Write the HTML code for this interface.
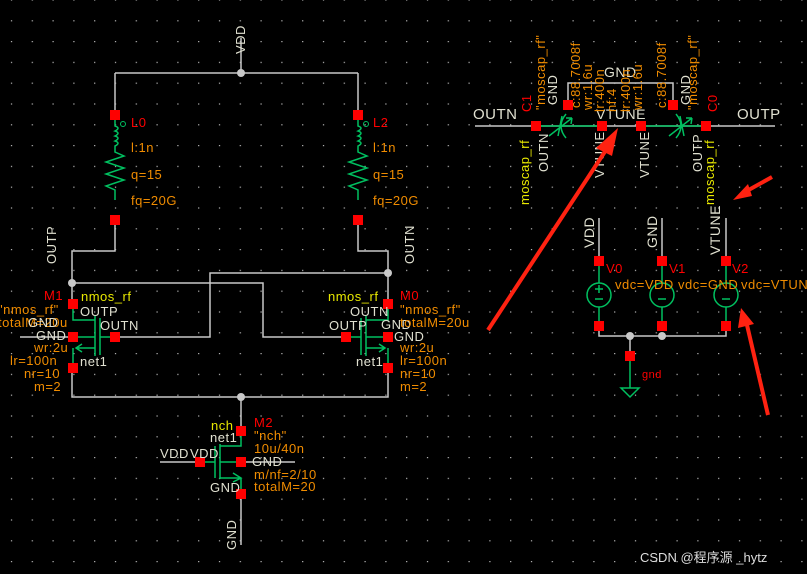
<!DOCTYPE html>
<html><head><meta charset="utf-8"><style>
html,body{margin:0;padding:0;background:#000;width:807px;height:574px;overflow:hidden}
svg{display:block}
text{font-family:"Liberation Sans","Noto Sans CJK SC",sans-serif;font-size:13px;letter-spacing:0.5px}
.w{stroke:#c8c8c8;stroke-width:1.5;fill:none}
.g{stroke:#00c060;stroke-width:1.5;fill:none}
.p{fill:#f00}
.o{fill:#f08c00}
.y{fill:#e8e800}
.r{fill:#f00}
.t{fill:#e0e0d0}
.d{fill:#c8c8c8}
</style></head><body>
<svg width="807" height="574" viewBox="0 0 807 574">
<defs><pattern id="gr" x="10.9" y="20.2" width="20.8" height="20.8" patternUnits="userSpaceOnUse"><rect x="0" y="0" width="1.2" height="1.2" fill="#bbb"/></pattern></defs>
<rect width="807" height="574" fill="#000"/>
<rect width="807" height="574" fill="url(#gr)"/>

<path class="w" d="M241 38V73M115 73H358M115 73V115M358 73V115"/>
<circle class="d" cx="241" cy="73" r="4"/>
<text class="t" transform="translate(245,54) rotate(-90)">VDD</text>
<g id="ind">
<path class="g" d="M115 120v6 q6 2 0 5 q6 2 0 5 q6 2 0 5 q6 2 0 5 v6 l9 4 -18 6 18 6 -18 6 18 6 -18 6 9 4v10"/>
<circle cx="123" cy="124" r="2.5" fill="none" stroke="#00c060"/>
</g>
<use href="#ind" x="243"/>
<rect class="p" x="110" y="110" width="10" height="10"/><rect class="p" x="110" y="215" width="10" height="10"/>
<rect class="p" x="353" y="110" width="10" height="10"/><rect class="p" x="353" y="215" width="10" height="10"/>
<text class="r" x="131" y="127">L0</text><text class="o" x="131" y="152">l:1n</text><text class="o" x="131" y="179">q=15</text><text class="o" x="131" y="205">fq=20G</text>
<text class="r" x="373" y="127">L2</text><text class="o" x="373" y="152">l:1n</text><text class="o" x="373" y="179">q=15</text><text class="o" x="373" y="205">fq=20G</text>

<path class="w" d="M115 225V251H72V304M358 225V251H388V304M72 283H263V337H346M388 273H210V337H115M72 368V397H388V368M241 397V431M20 337H72"/>
<circle class="d" cx="72" cy="283" r="4"/><circle class="d" cx="388" cy="273" r="4"/><circle class="d" cx="241" cy="397" r="4"/>
<text class="t" transform="translate(56,264) rotate(-90)">OUTP</text>
<text class="t" transform="translate(414,264) rotate(-90)">OUTN</text>

<path class="g" d="M73 304V320H95M95 316V356M100 318V355M100 337H115M73 337H95M95 348L76 348M82 344L76 348L82 352M73 348V368"/>
<rect class="p" x="68" y="299" width="10" height="10"/><rect class="p" x="68" y="332" width="10" height="10"/><rect class="p" x="110" y="332" width="10" height="10"/><rect class="p" x="68" y="363" width="10" height="10"/>
<text class="r" x="44" y="300">M1</text>
<text class="y" x="81" y="301">nmos_rf</text>
<text class="t" x="80" y="316">OUTP</text>
<text class="t" x="100" y="330">OUTN</text>
<text class="o" x="-2" y="314">"nmos_rf"</text>
<text class="o" x="-2" y="327">totalM=20u</text>
<text class="t" x="28" y="327">GND</text>
<text class="t" x="36" y="340">GND</text>
<text class="o" x="34" y="352">wr:2u</text>
<text class="o" x="10" y="365">lr=100n</text>
<text class="o" x="24" y="378">nr=10</text>
<text class="o" x="34" y="391">m=2</text>
<text class="t" x="80" y="366">net1</text>

<path class="g" d="M388 304V320H366M366 316V356M361 318V355M346 337H361M366 337H388M366 348L385 348M379 344L385 348L379 352M388 348V368"/>
<rect class="p" x="383" y="299" width="10" height="10"/><rect class="p" x="383" y="332" width="10" height="10"/><rect class="p" x="341" y="332" width="10" height="10"/><rect class="p" x="383" y="363" width="10" height="10"/>
<text class="r" x="400" y="300">M0</text>
<text class="y" x="328" y="301">nmos_rf</text>
<text class="t" x="350" y="316">OUTN</text>
<text class="t" x="329" y="330">OUTP</text>
<text class="t" x="381" y="329">GND</text>
<text class="t" x="394" y="341">GND</text>
<text class="o" x="400" y="314">"nmos_rf"</text>
<text class="o" x="400" y="327">totalM=20u</text>
<text class="o" x="400" y="352">wr:2u</text>
<text class="o" x="400" y="365">lr=100n</text>
<text class="o" x="400" y="378">nr=10</text>
<text class="o" x="400" y="391">m=2</text>
<text class="t" x="356" y="366">net1</text>

<path class="w" d="M160 462H200M241 462H295M241 494V545"/>
<path class="g" d="M241 431V446H220M220 444V479M215 446V478M200 462H215M220 462H241M220 478H241M233 473L241 478L233 482M241 478V494"/>
<rect class="p" x="236" y="426" width="10" height="10"/><rect class="p" x="195" y="457" width="10" height="10"/><rect class="p" x="236" y="457" width="10" height="10"/><rect class="p" x="236" y="489" width="10" height="10"/>
<text class="y" x="211" y="430">nch</text>
<text class="t" x="210" y="442">net1</text>
<text class="r" x="254" y="427">M2</text>
<text class="o" x="254" y="440">"nch"</text>
<text class="o" x="254" y="453">10u/40n</text>
<text class="t" x="252" y="466">GND</text>
<text class="o" x="254" y="479">m/nf=2/10</text>
<text class="o" x="254" y="491">totalM=20</text>
<text class="t" x="160" y="458">VDD</text><text class="t" x="190" y="458">VDD</text>
<text class="t" x="210" y="492">GND</text>
<text class="t" transform="translate(236,550) rotate(-90)">GND</text>

<path class="w" d="M475 126H775M568 105V83H673V105"/>
<path class="g" d="M536 126H602M641 126H706"/>
<path class="g" d="M562 116L558 136M566 114Q556 126 566 138M549 136L572 118M572 118L566 118M572 118L571 124"/>
<path class="g" d="M680 116L684 136M676 114Q686 126 676 138M669 136L692 118M692 118L686 118M692 118L691 124"/>
<rect class="p" x="531" y="121" width="10" height="10"/><rect class="p" x="597" y="121" width="10" height="10"/><rect class="p" x="636" y="121" width="10" height="10"/><rect class="p" x="701" y="121" width="10" height="10"/>
<rect class="p" x="563" y="100" width="10" height="10"/><rect class="p" x="668" y="100" width="10" height="10"/>
<text class="t" x="473" y="119" style="font-size:15px">OUTN</text>
<text class="t" x="737" y="119" style="font-size:15px">OUTP</text>
<text class="t" x="604" y="77" style="font-size:14px">GND</text>
<text class="t" x="596" y="119" style="font-size:14px">VTUNE</text>
<text class="r" transform="translate(531,112) rotate(-90)">C1</text>
<text class="o" transform="translate(545,110) rotate(-90)">"moscap_rf"</text>
<text class="t" transform="translate(557,105) rotate(-90)">GND</text>
<text class="o" transform="translate(580,108) rotate(-90)">c:88.7008f</text>
<text class="o" transform="translate(592,110) rotate(-90)">wr:1.6u</text>
<text class="o" transform="translate(604,112) rotate(-90)">lr:400n</text>
<text class="o" transform="translate(616,112) rotate(-90)">nf:4</text>
<text class="o" transform="translate(630,112) rotate(-90)">lr:400n</text>
<text class="o" transform="translate(642,110) rotate(-90)">wr:1.6u</text>
<text class="o" transform="translate(666,108) rotate(-90)">c:88.7008f</text>
<text class="t" transform="translate(690,105) rotate(-90)">GND</text>
<text class="o" transform="translate(697,110) rotate(-90)">"moscap_rf"</text>
<text class="r" transform="translate(717,112) rotate(-90)">C0</text>
<text class="y" transform="translate(529,205) rotate(-90)">moscap_rf</text>
<text class="t" transform="translate(548,172) rotate(-90)">OUTN</text>
<text class="t" transform="translate(604,178) rotate(-90)">VTUNE</text>
<text class="t" transform="translate(649,178) rotate(-90)">VTUNE</text>
<text class="t" transform="translate(702,172) rotate(-90)">OUTP</text>
<text class="y" transform="translate(714,205) rotate(-90)">moscap_rf</text>

<path class="w" d="M599 218V261M662 218V261M726 218V261M599 326V336H726V326M630 336V356"/>
<g class="g">
<path d="M599 266V326M662 266V326M726 266V326M630 356V388M621 388H639L630 397Z"/>
<circle cx="599" cy="295" r="12" fill="#000"/><circle cx="662" cy="295" r="12" fill="#000"/><circle cx="726" cy="295" r="12" fill="#000"/>
<path d="M595 289h8M599 285v8M595 299h8M658 299h8M722 299h8"/>
</g>
<rect class="p" x="594" y="256" width="10" height="10"/><rect class="p" x="657" y="256" width="10" height="10"/><rect class="p" x="721" y="256" width="10" height="10"/>
<rect class="p" x="594" y="321" width="10" height="10"/><rect class="p" x="657" y="321" width="10" height="10"/><rect class="p" x="721" y="321" width="10" height="10"/>
<rect class="p" x="625" y="351" width="10" height="10"/>
<circle class="d" cx="630" cy="336" r="4"/><circle class="d" cx="662" cy="336" r="4"/>
<text class="t" transform="translate(594,248) rotate(-90)" style="font-size:14px">VDD</text>
<text class="t" transform="translate(657,248) rotate(-90)" style="font-size:14px">GND</text>
<text class="t" transform="translate(720,255) rotate(-90)" style="font-size:14px">VTUNE</text>
<text class="r" x="606" y="273">V0</text><text class="r" x="669" y="273">V1</text><text class="r" x="732" y="273">V2</text>
<text class="o" x="615" y="289">vdc=VDD</text><text class="o" x="678" y="289">vdc=GND</text><text class="o" x="741" y="289">vdc=VTUNE</text>
<text class="r" x="642" y="378" style="font-size:11px">gnd</text>

<g fill="#f21" stroke="#f21">
<path d="M488 330L606 150" stroke-width="4"/><path d="M618 128L596 148L612 156Z" stroke="none"/>
<path d="M772 177L745 192" stroke-width="4"/><path d="M733 200L748 184L752 196Z" stroke="none"/>
<path d="M768 415L747 325" stroke-width="4"/><path d="M741 308L738 328L754 324Z" stroke="none"/>
</g>

<text x="640" y="562" fill="#ddd" style="font-size:13px;letter-spacing:0">CSDN @程序源 _hytz</text>
</svg>
</body></html>
